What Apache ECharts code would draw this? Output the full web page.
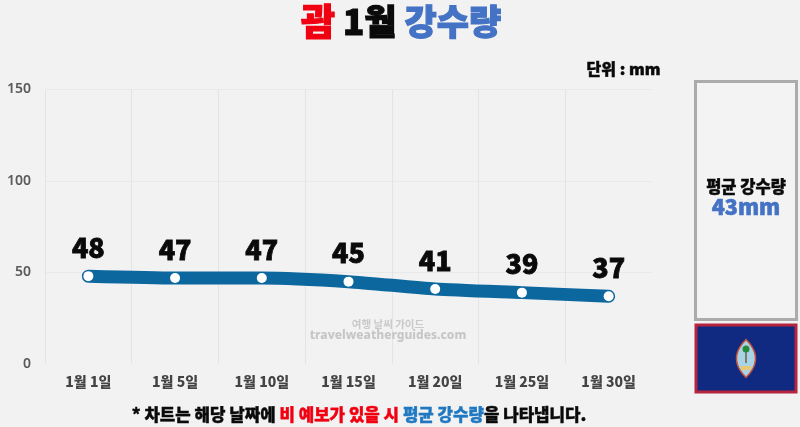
<!DOCTYPE html>
<html><head><meta charset="utf-8">
<style>html,body{margin:0;padding:0;background:#f2f2f2}#c{width:800px;height:427px}</style>
<script src="https://cdn.jsdelivr.net/npm/echarts@6/dist/echarts.min.js"></script>
</head><body><div id="c"></div>
<script>
const categories = ['1월 1일','1월 5일','1월 10일','1월 15일','1월 20일','1월 25일','1월 30일'];
const rainfall = [48,47,47,45,41,39,37];
const FONT = '"Noto Sans CJK KR","Noto Sans",sans-serif';
const chart = echarts.init(document.getElementById('c'), null, {renderer:'canvas'});

function seal(cx, cy, hw, hh, fill, stroke, lw){
  const pts=[];
  for(let i=0;i<=20;i++){const t=-1+i/10;pts.push([cx+hw*(1-t*t),cy+hh*t]);}
  for(let i=1;i<20;i++){const t=1-i/10;pts.push([cx-hw*(1-t*t),cy+hh*t]);}
  return {type:'polygon', silent:true, z:12, shape:{points:pts}, style:{fill, stroke, lineWidth:lw}};
}
function rich(size,color,b){return {fontFamily:FONT,fontSize:size,fontWeight:900,color,textBorderColor:color,textBorderWidth:b};}

chart.setOption({
  animation:false,
  backgroundColor:'#f2f2f2',
  textStyle:{fontFamily:FONT},
  title:[
    {left:396, top:-2, textAlign:'center',
     text:'{r|괌}{k|1월}{b|강수량}',
     textStyle:{rich:{
       r:Object.assign(rich(37,'#f00010',1.2),{padding:[0,8,0,0]}),
       k:Object.assign(rich(35,'#0a0a0a',1.2),{padding:[0,8,0,0]}),
       b:rich(35,'#4472c4',1.2)}}},
    {left:655.5, top:56, textAlign:'right', text:'단위 : mm',
     textStyle:rich(16,'#0a0a0a',0.5)},
    {left:354, top:401, textAlign:'center',
     text:'{k|* 차트는 해당 날짜에 }{r|비 예보가 있을 시 }{b|평균 강수량}{k|을 나타냅니다.}',
     textStyle:{rich:{k:rich(16.8,'#0a0a0a',0.4),r:rich(16.8,'#f00010',0.4),b:rich(16.8,'#1f78c1',0.4)}}}
  ],
  grid:{left:45, right:148, top:89.5, bottom:63},
  xAxis:{type:'category', data:categories, boundaryGap:true,
    axisLine:{show:false}, axisTick:{show:false},
    splitLine:{show:true, showMaxLine:false, lineStyle:{color:'#e4e4e4',width:1}},
    axisLabel:{fontFamily:FONT,fontSize:14,fontWeight:900,color:'#444',margin:11}},
  yAxis:{type:'value', min:0, max:150, interval:50,
    axisLine:{show:false}, axisTick:{show:false},
    splitLine:{showMinLine:false, lineStyle:{color:'#e9e9e9',width:1}},
    axisLabel:{fontFamily:'"Noto Sans",sans-serif',fontSize:14,fontWeight:600,color:'#5a5a5a',margin:14}},
  series:[{type:'line', data:rainfall, smooth:0.2, showSymbol:true,
    symbol:'circle', symbolSize:10,
    lineStyle:{color:'#0b679e',width:13,cap:'round',join:'round'},
    itemStyle:{color:'#ffffff',borderColor:'#ffffff',borderWidth:0},
    label:{show:true,position:'top',distance:10,
      fontFamily:FONT,fontSize:27,fontWeight:900,color:'#0a0a0a',textBorderColor:'#0a0a0a',textBorderWidth:0.8},
    z:3}],
  graphic:[
    {type:'rect',silent:true,z:10,shape:{x:695.5,y:81.5,width:101,height:238},
      style:{fill:'#f3f3f3',stroke:'#ababab',lineWidth:3}},
    {type:'text',silent:true,z:11,x:746,y:187,
      style:{text:'평균 강수량',fontFamily:FONT,fontSize:16.5,fontWeight:900,fill:'#0a0a0a',stroke:'#0a0a0a',lineWidth:0.4,align:'center',verticalAlign:'middle'}},
    {type:'text',silent:true,z:11,x:746,y:207,
      style:{text:'43mm',fontFamily:FONT,fontSize:21.5,fontWeight:900,fill:'#4472c4',stroke:'#4472c4',lineWidth:0.6,align:'center',verticalAlign:'middle'}},
    {type:'rect',silent:true,z:10,shape:{x:696,y:325,width:100,height:67},
      style:{fill:'#0f2a80',stroke:'#b5253f',lineWidth:3}},
    seal(746,358.5,9.5,19,'#a8d4e6','#c8503c',1.5),
    {type:'rect',silent:true,z:13,shape:{x:741,y:366,width:10,height:4},style:{fill:'#e8c870'}},
    {type:'rect',silent:true,z:13,shape:{x:745.3,y:349,width:1.4,height:14},style:{fill:'#6b5a3a'}},
    {type:'circle',silent:true,z:13,shape:{cx:746,cy:349,r:3.5},style:{fill:'#2a8a3c'}},
    {type:'text',silent:true,z:5,x:388,y:324,
      style:{text:'여행 날씨 가이드',fontFamily:FONT,fontSize:10.5,fontWeight:700,fill:'#c9c9c9',align:'center',verticalAlign:'middle'}},
    {type:'text',silent:true,z:5,x:388,y:336,
      style:{text:'travelweatherguides.com',fontFamily:'"Noto Sans",sans-serif',fontSize:12,fontWeight:800,fill:'#c6c6c6',align:'center',verticalAlign:'middle'}}
  ]
});
</script></body></html>
